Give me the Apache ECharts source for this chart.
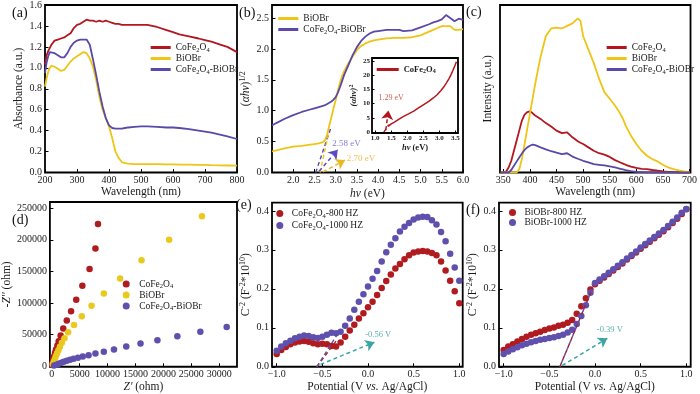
<!DOCTYPE html>
<html><head><meta charset="utf-8">
<script src="https://cdn.jsdelivr.net/npm/echarts@6/dist/echarts.min.js"></script>
<style>html,body{margin:0;padding:0;background:#fff}#c{width:700px;height:394px}</style>
</head><body><div id="c"></div>
<script>
// ---------------- DATA ----------------
// (a) UV-vis absorbance
const aWave = [200,205,210,215,220,230,240,250,260,270,280,290,300,310,320,330,340,350,360,370,380,390,400,410,420,430,440,450,460,480,500,520,550,580,600,620,650,680,700,720,750,770,800];
const aCoFe2O4 = [1.03,1.12,1.16,1.19,1.22,1.26,1.27,1.28,1.29,1.31,1.33,1.38,1.41,1.42,1.44,1.46,1.45,1.45,1.44,1.45,1.44,1.45,1.44,1.43,1.42,1.42,1.41,1.41,1.41,1.41,1.41,1.41,1.39,1.36,1.34,1.32,1.30,1.28,1.265,1.25,1.22,1.20,1.15];
const aBiOBr = [0.82,0.90,0.96,1.00,1.02,1.01,0.99,0.97,0.98,1.02,1.06,1.09,1.11,1.13,1.15,1.14,1.09,1.01,0.88,0.72,0.60,0.52,0.44,0.33,0.20,0.14,0.10,0.09,0.085,0.08,0.08,0.08,0.08,0.078,0.078,0.076,0.075,0.073,0.072,0.07,0.068,0.067,0.065];
const aComposite = [0.95,1.05,1.11,1.15,1.16,1.14,1.12,1.10,1.10,1.14,1.20,1.24,1.26,1.27,1.27,1.27,1.22,1.08,0.93,0.77,0.63,0.52,0.45,0.425,0.42,0.42,0.42,0.425,0.43,0.435,0.44,0.44,0.435,0.43,0.43,0.425,0.415,0.40,0.39,0.38,0.36,0.345,0.32];
const aTicksX = [200,300,400,500,600,700,800];
const aTicksY = [0,0.2,0.4,0.6,0.8,1.0,1.2,1.4,1.6];

// (b) Tauc plot
const bHv = [1.5,1.6,1.8,2.0,2.2,2.4,2.5,2.6,2.7,2.75,2.8,2.85,2.9,2.95,3.0,3.05,3.1,3.15,3.2,3.3,3.4,3.5,3.6,3.7,3.8,3.9,4.0,4.2,4.4,4.5,4.6,4.8,5.0,5.2,5.3,5.4,5.5,5.6,5.7,5.8,5.9,6.0];
const bBiOBr = [0.34,0.36,0.39,0.42,0.43,0.45,0.46,0.47,0.49,0.52,0.62,0.76,0.90,1.04,1.17,1.32,1.45,1.56,1.64,1.77,1.88,1.98,2.05,2.09,2.12,2.14,2.15,2.17,2.18,2.18,2.18,2.19,2.22,2.28,2.31,2.34,2.37,2.37,2.37,2.31,2.31,2.32];
const bComposite = [0.76,0.80,0.87,0.93,0.98,1.02,1.04,1.06,1.08,1.09,1.11,1.13,1.15,1.18,1.22,1.29,1.38,1.48,1.58,1.74,1.90,2.03,2.13,2.20,2.25,2.28,2.29,2.31,2.31,2.31,2.29,2.30,2.35,2.40,2.43,2.45,2.48,2.55,2.50,2.45,2.49,2.47];
const bTicksX = [2.0,2.5,3.0,3.5,4.0,4.5,5.0,5.5,6.0];
const bTicksY = [0,0.5,1.0,1.5,2.0,2.5];
const bTangentBlue = [[2.53,0],[2.90,0.75]];
const bTangentYellow = [[2.63,0],[2.83,0.62]];
const bArrowBlue = [[2.61,0.02],[3.05,0.37]];
const bArrowYellow = [[2.70,0.01],[3.22,0.20]];
const bNoteBlue = {pos:[2.92,0.47], text:'2.58 eV'};
const bNoteYellow = {pos:[3.26,0.22], text:'2.70 eV'};

// (b) inset CoFe2O4
const insHv = [1.4,1.5,1.6,1.73,1.9,2.04,2.2,2.35,2.5,2.67,2.8,2.93,3.05,3.14,3.22,3.30,3.36,3.42,3.48,3.53];
const insCoFe2O4 = [2.0,2.9,3.5,4.5,5.6,6.4,7.4,8.5,9.6,10.8,11.9,13.1,14.6,15.9,17.3,18.8,20.1,21.6,23.2,24.7];
const insTicksX = [1.0,1.5,2.0,2.5,3.0,3.5];
const insTicksY = [0,5,10,15,20,25];
const insTangent = [[1.27,0],[1.42,2.6]];
const insArrow = [[1.33,0.7],[1.41,7.6]];
const insNote = {pos:[1.1,11.9], text:'1.29 eV'};

// (c) PL spectra
const cWave = [345,350,355,360,365,370,375,380,385,390,395,400,405,410,420,430,440,450,460,470,480,490,495,500,510,520,530,540,550,560,570,575,580,590,600,610,620,630,640,650,660,670,680,690,700];
const cCoFe2O4 = [0,0,0.5,3,7,13,19,25,31,34.5,36,36.5,35.5,34,32,29.5,27.5,25,23.5,24,21,18.7,17.8,17,15,13,11.5,10.7,9.3,7.4,6,5.3,4.6,3.5,2.8,2.2,2,1.5,1.1,0.6,0.4,0.2,0.1,0,0];
const cBiOBr = [0,0,0,0,0,0,0,2,8,17,26,35,44,53,69,81.5,86,86.5,86,87.5,89,92,90.5,81.5,73.4,65.4,56,48,44,40,35,32,28,22,17,13,10,8,6.6,4.6,3,2,1.2,0.6,0.3];
const cComposite = [0,0,0,0,1.5,4,6.5,9,11.3,13.5,15,16,16.7,16.3,15,13.8,12.7,11.8,11,11.5,9.5,8.2,7.6,7,6,5,4.6,4.2,3.6,3,2.2,1.8,1.4,0.8,0.4,0.2,0,0,0,0,0,0,0,0,0];
const cTicksX = [350,400,450,500,550,600,650,700];

// (d) Nyquist plots [Z', -Z'']
const dCoFe2O4 = [[50,1900],[120,5400],[230,10600],[400,15800],[580,21100],[750,26300],[1000,32650],[1225,39400],[1575,48400],[2045,59500],[2675,72100],[3445,86750],[4370,105200],[5470,127300],[6765,153600],[7815,186100],[8270,225000]];
const dBiOBr = [[175,3200],[350,6900],[525,11000],[700,15800],[930,20500],[1170,25200],[1450,30600],[1800,36900],[2270,44200],[2920,53600],[3970,65300],[5370,78900],[7115,95700],[9320,115100],[12240,138800],[16080,167800],[21030,199900],[26920,237200]];
const dComposite = [[400,1100],[820,2200],[1220,3800],[1700,5400],[2150,6900],[2675,8500],[3270,10100],[3900,11700],[4670,13200],[5540,15300],[6590,17300],[7815,20000],[9320,22700],[11140,26300],[13340,31100],[15900,35800],[18930,41000],[22500,47300],[26630,54300],[31350,62100]];
const dTicksX = [0,5000,10000,15000,20000,25000,30000];
const dTicksY = [0,50000,100000,150000,200000,250000];

// (e),(f) Mott-Schottky
const msPotential = [-1.0,-0.95,-0.9,-0.85,-0.8,-0.75,-0.7,-0.65,-0.6,-0.55,-0.5,-0.45,-0.4,-0.35,-0.3,-0.25,-0.2,-0.15,-0.1,-0.05,0.0,0.05,0.1,0.15,0.2,0.25,0.3,0.35,0.4,0.45,0.5,0.55,0.6,0.65,0.7,0.75,0.8,0.85,0.9,0.95,1.0];
const eCoFe800 = [0.033,0.043,0.051,0.058,0.062,0.065,0.066,0.064,0.060,0.058,0.059,0.058,0.053,0.052,0.062,0.077,0.093,0.108,0.124,0.137,0.153,0.167,0.184,0.202,0.220,0.237,0.252,0.264,0.276,0.286,0.293,0.296,0.297,0.296,0.292,0.286,0.270,0.247,0.221,0.194,0.163];
const eCoFe1000 = [0.041,0.052,0.060,0.067,0.073,0.077,0.080,0.079,0.076,0.074,0.077,0.082,0.087,0.086,0.090,0.105,0.124,0.146,0.167,0.186,0.206,0.226,0.246,0.270,0.294,0.313,0.330,0.347,0.359,0.369,0.378,0.383,0.385,0.384,0.376,0.365,0.346,0.322,0.290,0.255,0.221];
const fBiOBr800 = [0.043,0.052,0.058,0.065,0.071,0.077,0.082,0.086,0.090,0.094,0.098,0.101,0.105,0.108,0.113,0.120,0.136,0.155,0.176,0.198,0.212,0.221,0.229,0.238,0.247,0.256,0.265,0.275,0.284,0.293,0.303,0.312,0.321,0.330,0.339,0.348,0.358,0.369,0.380,0.392,0.404];
const fBiOBr1000 = [0.033,0.039,0.045,0.050,0.055,0.059,0.063,0.066,0.069,0.071,0.074,0.076,0.079,0.082,0.088,0.095,0.110,0.130,0.158,0.190,0.215,0.224,0.232,0.241,0.250,0.259,0.268,0.278,0.287,0.296,0.306,0.315,0.324,0.333,0.342,0.351,0.361,0.372,0.383,0.395,0.405];
const msTicksX = [-1.0,-0.5,0.0,0.5,1.0];
const msTicksY = [0,0.1,0.2,0.3,0.4];
const eTangent800 = [[-0.56,0],[-0.35,0.066]];
const eTangent1000 = [[-0.56,0],[-0.32,0.089]];
const eArrow = [[-0.52,0.006],[0.07,0.063]];
const eNote = {pos:[-0.03,0.083], text:'-0.56 V'};
const fTangent = [[-0.385,0],[-0.03,0.2]];
const fArrow = [[-0.36,0.003],[0.135,0.073]];
const fNote = {pos:[0.02,0.096], text:'-0.39 V'};

// ---------------- STYLE ----------------
const F = '"Liberation Serif","Times New Roman",serif';
const TXT = '#1a1a1a';
const C_RED = '#B3161E', C_YEL = '#EEC516', C_BLU = '#5A49A6', C_TEAL = '#3AA5A5';
const S_RED = '#B01B20', S_YEL = '#E9C91E', S_BLU = '#6050AE';

function rich(fs){
  return {
    n:{fontFamily:F,fontSize:fs,color:TXT,lineHeight:fs+3},
    i:{fontFamily:F,fontSize:fs,fontStyle:'italic',color:TXT,lineHeight:fs+3},
    p:{fontFamily:F,fontSize:Math.round(fs*0.7),color:TXT,padding:[0,0,Math.round(fs*0.55),0],lineHeight:fs+3},
    s:{fontFamily:F,fontSize:Math.round(fs*0.7),color:TXT,padding:[Math.round(fs*0.5),0,0,0],lineHeight:fs+3},
    bi:{fontFamily:F,fontSize:fs,fontStyle:'italic',fontWeight:'bold',color:TXT,lineHeight:fs+3},
    b:{fontFamily:F,fontSize:fs,fontWeight:'bold',color:TXT,lineHeight:fs+3},
    bp:{fontFamily:F,fontSize:Math.round(fs*0.7),fontWeight:'bold',color:TXT,padding:[0,0,Math.round(fs*0.55),0],lineHeight:fs+3}
  };
}
const cofe = '{n|CoFe}{s|2}{n|O}{s|4}';
const LBL = {
  a1:cofe, a2:'{n|BiOBr}', a3:cofe+'{n|-BiOBr}',
  b1:'{n|BiOBr}', b2:cofe+'{n|-BiOBr}',
  i1:'{nb|CoFe}{sb|2}{nb|O}{sb|4}',
  c1:cofe, c2:'{n|BiOBr}', c3:cofe+'{n|-BiOBr}',
  d1:cofe, d2:'{n|BiOBr}', d3:cofe+'{n|-BiOBr}',
  e1:cofe+'{n|-800 HZ}', e2:cofe+'{n|-1000 HZ}',
  f1:'{n|BiOBr-800 HZ}', f2:'{n|BiOBr-1000 HZ}'
};
const legendRich = {
  n:{fontFamily:F,fontSize:9.5,color:TXT,lineHeight:12},
  s:{fontFamily:F,fontSize:6.5,color:TXT,padding:[5,0,0,0],lineHeight:12},
  nb:{fontFamily:F,fontSize:8.5,fontWeight:'bold',color:TXT,lineHeight:11},
  sb:{fontFamily:F,fontSize:6,fontWeight:'bold',color:TXT,padding:[4,0,0,0],lineHeight:11}
};
function legend(names,left,top,icon,iw,ih,tgap){
  return {orient:'vertical',left,top,padding:0,itemGap:0,itemWidth:iw,itemHeight:ih,itemTextGap:tgap,
    icon,selectedMode:false,data:names,formatter:n=>LBL[n],
    textStyle:{fontFamily:F,fontSize:9.5,color:TXT,rich:legendRich}};
}

function grid(left,top,width,height,bg){
  return {left,top,width,height,show:true,borderColor:'#000',borderWidth:1.8,backgroundColor:bg||'transparent',containLabel:false};
}
function axis(gi,o){
  const fs = o.nfs||11.5;
  return {
    gridIndex:gi,type:'value',min:o.min,max:o.max,
    name:o.name,nameLocation:'middle',nameGap:o.gap,nameRotate:o.rot,
    nameTextStyle:{fontFamily:F,fontSize:fs,color:TXT,fontWeight:o.bold?'bold':'normal',rich:rich(fs)},
    axisLine:{show:false,onZero:false},splitLine:{show:false},
    axisTick:{show:o.ticks!==false,inside:true,length:o.tl||3.5,lineStyle:{color:'#000',width:1},customValues:o.vals},
    axisLabel:{show:o.labels!==false,customValues:o.vals,formatter:o.fmt||(v=>String(v)),margin:o.margin||3,
      fontFamily:F,fontSize:o.fs||10,color:TXT,fontWeight:o.bold?'bold':'normal'}
  };
}
const f1 = v=>v.toFixed(1);
const fm = v=>(v<0?'\u2212':'')+Math.abs(v).toFixed(1);

const lineS=(name,xi,xs,ys,color,w)=>({name,type:'line',xAxisIndex:xi,yAxisIndex:xi,data:xs.map((x,k)=>[x,ys[k]]),
  showSymbol:false,symbol:'none',lineStyle:{color,width:w||1.8},itemStyle:{color},animation:false,z:3});
const scatS=(name,xi,pts,color)=>({name,type:'scatter',xAxisIndex:xi,yAxisIndex:xi,data:pts,symbolSize:6.5,
  itemStyle:{color,opacity:1},animation:false,z:3});
const dashS=(xi,seg,color,off)=>({type:'line',xAxisIndex:xi,yAxisIndex:xi,data:seg,showSymbol:false,symbol:'none',
  lineStyle:{color,width:1.4,type:[4,3],dashOffset:off||0},silent:true,animation:false,z:4});
const arrowS=(xi,seg,color)=>({type:'lines',coordinateSystem:'cartesian2d',xAxisIndex:xi,yAxisIndex:xi,
  data:[{coords:seg}],symbol:['none','arrow'],symbolSize:[0,9],silent:true,animation:false,z:5,
  lineStyle:{color,width:1.5,type:[4,3],opacity:1},itemStyle:{color}});
const textS=(xi,note,color,fs)=>({type:'scatter',xAxisIndex:xi,yAxisIndex:xi,data:[{value:note.pos}],symbolSize:0,silent:true,
  label:{show:true,position:'inside',align:'left',verticalAlign:'middle',formatter:note.text,color,fontFamily:F,fontSize:fs||10},
  animation:false,z:6});

const option = {
  animation:false,
  backgroundColor:'#fff',
  grid:[
    grid(45,5,192,167.5),          //0 a
    grid(272,5,191,167.5),         //1 b
    grid(372,58,86,75,'#fff'),     //2 inset
    grid(500,5,191,167.5),         //3 c
    grid(45,202,192,165.3),        //4 d
    grid(272,202.7,190.7,164.6),   //5 e
    grid(499,202.7,191.7,164.6)    //6 f
  ],
  xAxis:[
    axis(0,{min:200,max:800,vals:aTicksX,name:'Wavelength (nm)',gap:13}),
    axis(1,{min:1.5,max:6.0,vals:bTicksX,fmt:f1,name:'{i|hv}{n| (eV)}',gap:14}),
    axis(2,{min:0.9,max:3.58,vals:insTicksX,fmt:f1,name:'{bi|hv}{b| (eV)}',gap:9,nfs:8.5,fs:7,bold:true,margin:2,tl:2.5}),
    axis(3,{min:343.8,max:701.9,vals:cTicksX,name:'Wavelength (nm)',gap:13}),
    axis(4,{min:-350,max:33200,vals:dTicksX,name:"{i|Z'}{n| (ohm)}",gap:13}),
    axis(5,{min:-1.0515,max:1.0373,vals:msTicksX,fmt:fm,name:'{n|Potential (V }{i|vs.}{n| Ag/AgCl)}',gap:13}),
    axis(6,{min:-1.0515,max:1.048,vals:msTicksX,fmt:fm,name:'{n|Potential (V }{i|vs.}{n| Ag/AgCl)}',gap:13})
  ],
  yAxis:[
    axis(0,{min:0,max:1.6,vals:aTicksY,fmt:f1,name:'Absorbance (a.u.)',gap:20}),
    axis(1,{min:0,max:2.712,vals:bTicksY,fmt:f1,name:'{n|(}{i|αhv}{n|)}{p|1/2}',gap:19}),
    axis(2,{min:-0.3,max:26,vals:insTicksY,name:'{bi|(αhv)}{bp|2}',gap:10,nfs:8.5,fs:7,bold:true,margin:2,tl:2.5}),
    axis(3,{min:0,max:100,vals:[0],labels:false,ticks:false,name:'Intensity (a.u.)',gap:6}),
    axis(4,{min:-950,max:259800,vals:dTicksY,name:"{n|-}{i|Z''}{n| (ohm)}",gap:30}),
    axis(5,{min:0,max:0.421,vals:msTicksY,fmt:f1,name:'{n|C}{p|-2}{n| (F}{p|-2}{n|*10}{p|10}{n|)}',gap:17}),
    axis(6,{min:0,max:0.421,vals:msTicksY,fmt:f1,name:'{n|C}{p|-2}{n| (F}{p|-2}{n|*10}{p|10}{n|)}',gap:17})
  ],
  legend:[
    legend(['a1','a2','a3'],150.7,41.5,'rect',20,3,3),
    legend(['b1','b2'],278.3,13.5,'rect',20,3,3),
    Object.assign(legend(['i1'],376.7,64.5,'rect',22,3,3),{textStyle:{fontFamily:F,fontSize:8.5,fontWeight:'bold',color:TXT,rich:legendRich}}),
    legend(['c1','c2','c3'],606.7,41.5,'rect',20,3,3),
    legend(['d1','d2','d3'],122.7,278,'circle',16,7,4),
    legend(['e1','e2'],276.3,207.5,'circle',14,7,5),
    legend(['f1','f2'],509,207.5,'circle',14,7,5)
  ],
  graphic:[
    {type:'text',left:12,top:6,style:{text:'(a)',font:'14px "Liberation Serif"',fill:'#111'}},
    {type:'text',left:239,top:6,style:{text:'(b)',font:'14px "Liberation Serif"',fill:'#111'}},
    {type:'text',left:466,top:5,style:{text:'(c)',font:'14px "Liberation Serif"',fill:'#111'}},
    {type:'text',left:12,top:213,style:{text:'(d)',font:'14px "Liberation Serif"',fill:'#111'}},
    {type:'text',left:236,top:198,style:{text:'(e)',font:'14px "Liberation Serif"',fill:'#111'}},
    {type:'text',left:466,top:203,style:{text:'(f)',font:'14px "Liberation Serif"',fill:'#111'}}
  ],
  series:[
    lineS('a1',0,aWave,aCoFe2O4,C_RED),
    lineS('a2',0,aWave,aBiOBr,C_YEL),
    lineS('a3',0,aWave,aComposite,C_BLU),

    lineS('b1',1,bHv,bBiOBr,C_YEL),
    lineS('b2',1,bHv,bComposite,C_BLU),
    dashS(1,bTangentBlue,C_BLU),
    dashS(1,bTangentYellow,C_YEL),
    arrowS(1,bArrowBlue,'#5B4BC0'),
    arrowS(1,bArrowYellow,'#EAB820'),
    textS(1,bNoteBlue,'#6A5AC8',9),
    textS(1,bNoteYellow,'#E8AE20',9),

    lineS('i1',2,insHv,insCoFe2O4,C_RED,1.5),
    dashS(2,insTangent,C_RED),
    arrowS(2,insArrow,C_RED),
    textS(2,insNote,'#C0392B',8),

    lineS('c1',3,cWave,cCoFe2O4,C_RED),
    lineS('c2',3,cWave,cBiOBr,C_YEL),
    lineS('c3',3,cWave,cComposite,C_BLU),

    scatS('d1',4,dCoFe2O4,S_RED),
    scatS('d2',4,dBiOBr,S_YEL),
    scatS('d3',4,dComposite,S_BLU),

    scatS('e1',5,msPotential.map((x,k)=>[x,eCoFe800[k]]),S_RED),
    scatS('e2',5,msPotential.map((x,k)=>[x,eCoFe1000[k]]),S_BLU),
    dashS(5,eTangent800,S_RED),
    dashS(5,eTangent1000,S_BLU),
    arrowS(5,eArrow,C_TEAL),
    textS(5,eNote,'#2E9A9A',8.5),

    scatS('f1',6,msPotential.map((x,k)=>[x,fBiOBr800[k]]),S_RED),
    scatS('f2',6,msPotential.map((x,k)=>[x,fBiOBr1000[k]]),S_BLU),
    dashS(6,fTangent,S_RED,0),
    dashS(6,fTangent,S_BLU,3.5),
    arrowS(6,fArrow,C_TEAL),
    textS(6,fNote,'#2E9A9A',8.5)
  ]
};
const chart = echarts.init(document.getElementById('c'),null,{renderer:'canvas'});
chart.setOption(option);
</script>
</body></html>
